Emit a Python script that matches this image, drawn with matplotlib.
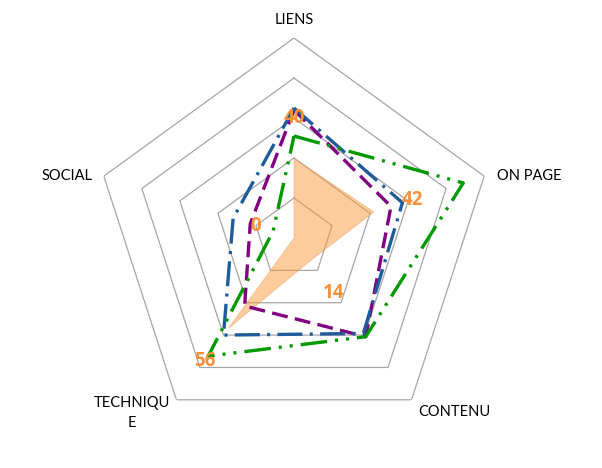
import numpy as np
import matplotlib.pyplot as plt

plt.rc('font', family=['Lato', 'DejaVu Sans'], size=10)

categories = ['LIENS', 'ON PAGE', 'CONTENU', 'TECHNIQUE', 'SOCIAL']
cat_labels = ['LIENS', 'ON PAGE', 'CONTENU', 'TECHNIQU\nE', 'SOCIAL']
orange_vals = [40, 42, 14, 56, 0]
purple_vals = [64, 51, 61, 42, 23]
blue_vals = [65, 57, 59, 60, 32]
green_vals = [51, 89, 61, 73, 11]
ring_levels = [20, 40, 60, 80, 100]


def closed(v):
    v = np.asarray(v, dtype=float)
    return np.append(v, v[0])


def main():
    theta = np.linspace(0, 2 * np.pi, len(categories), endpoint=False)
    th = closed(theta)

    fig = plt.figure(figsize=(6.02, 4.68), dpi=100)
    ax = fig.add_axes([94 / 602, 30 / 468, 400 / 602, 400 / 468], projection='polar')
    ax.set_theta_offset(np.pi / 2)
    ax.set_theta_direction(-1)
    ax.set_ylim(0, 100)
    ax.grid(False)
    ax.spines['polar'].set_visible(False)
    ax.set_xticks([])
    ax.set_yticks([])

    # pentagon grid
    for lev in ring_levels:
        ax.plot(th, [lev] * len(th), color='#A6A6A6', lw=0.9, zorder=1)

    # filled series
    ax.fill(th, closed(orange_vals), facecolor='#FB9A3A', alpha=0.5,
            edgecolor='#E8A060', lw=0.6, zorder=2)

    ax.plot(th, closed(purple_vals), color='#800080', lw=2.4,
            dashes=(4.8, 2.2), zorder=3)
    ax.plot(th, closed(blue_vals), color='#1F5C99', lw=2.4,
            dashes=(7.5, 2.2, 0.9, 2.2), zorder=3)
    ax.plot(th, closed(green_vals), color='#009900', lw=2.4,
            dashes=(8, 2.4, 0.9, 2.4, 0.9, 2.4), zorder=3)

    # value labels of the filled series
    for t, v in zip(theta, orange_vals):
        ax.text(t, v + 20, str(v), color='#F7923A', fontsize=13.5,
                family='Open Sans', fontweight='bold',
                ha='center', va='center', zorder=5)

    # category labels
    offsets = [(0, 8, 'center', 'bottom'),
               (9, 0, 'left', 'center'),
               (4.5, -8.5, 'left', 'center'),
               (-4.5, -9.5, 'right', 'center'),
               (-8, 0, 'right', 'center')]
    for t, lab, (dx, dy, ha, va) in zip(theta, cat_labels, offsets):
        ax.annotate(lab, xy=(t, 100), xytext=(dx, dy), textcoords='offset points',
                    ha=ha, va=va, multialignment='center', fontsize=10.5,
                    linespacing=1.5, annotation_clip=False)

    fig.savefig('out.png', dpi=100)


if __name__ == "__main__":
    main()
